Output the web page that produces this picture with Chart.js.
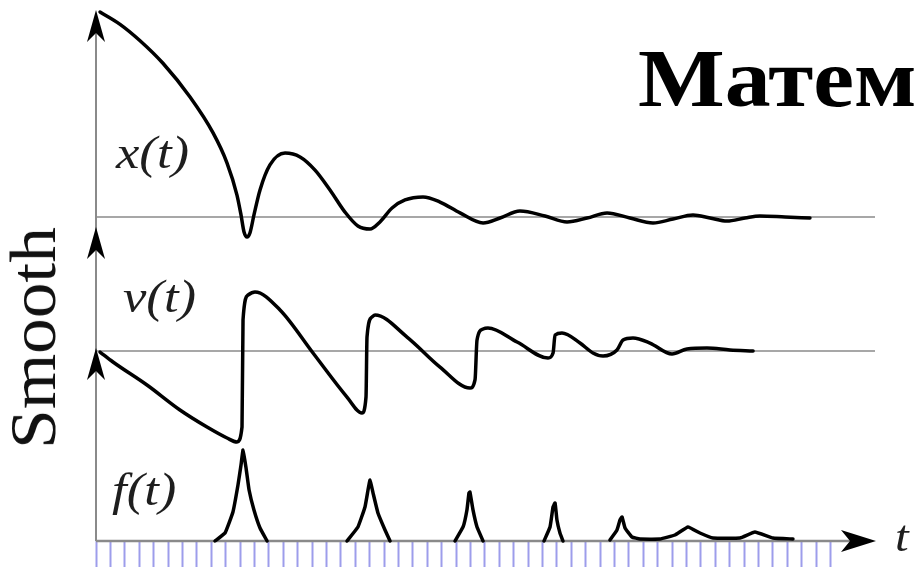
<!DOCTYPE html>
<html>
<head>
<meta charset="utf-8">
<title>Smooth</title>
<script src="https://cdn.jsdelivr.net/npm/chart.js@4.4.1/dist/chart.umd.min.js"></script>
<style>
  html, body { margin: 0; padding: 0; background: #fff; }
  #wrap { position: relative; width: 915px; height: 572px; overflow: hidden; }
  #chart { position: absolute; left: 0; top: 0; }
  .lbl {
    position: absolute; font-family: "Liberation Serif", "Times New Roman", serif;
    font-style: italic; font-size: 47px; line-height: 1; color: #1e1e1e; white-space: nowrap;
    transform: scaleX(1.12); transform-origin: left top;
  }
  #title {
    position: absolute; left: 638px; top: 38px; font-family: "Liberation Serif", "Times New Roman", serif;
    font-weight: bold; font-size: 82px; line-height: 1; color: #000; white-space: nowrap;
    transform: scaleX(1.12); transform-origin: left top;
  }
  #side {
    position: absolute; left: 33px; top: 338px; font-family: "Liberation Serif", "Times New Roman", serif;
    font-size: 66px; line-height: 1; color: #111; white-space: nowrap;
    transform: translate(-50%, -50%) rotate(-90deg) scaleX(1.08);
  }
</style>
</head>
<body>
<div id="wrap">
  <canvas id="chart" width="915" height="572"></canvas>
  <div id="title">Матема</div>
  <div id="side">Smooth</div>
  <div class="lbl" style="left:116px; top:129px;">x(t)</div>
  <div class="lbl" style="left:123px; top:273px;">v(t)</div>
  <div class="lbl" style="left:112px; top:466px;">f(t)</div>
  <div class="lbl" style="left:895px; top:515px; font-size:44px;">t</div>
</div>
<script>
// time, in tick steps
// x(t) - position
const xTimes = [0.28, 1.67, 3.06, 4.65, 6.53, 8.13, 9.10, 9.79, 10.07, 10.28,
  10.49, 10.69, 10.97, 11.39, 12.08, 13.13, 14.17, 15.21, 16.25, 17.29,
  18.19, 19.03, 19.72, 20.56, 21.46, 22.71, 23.89, 25.28, 26.88, 28.06,
  29.44, 31.18, 32.71, 34.10, 35.49, 37.08, 38.68, 40.07, 41.46, 42.64,
  43.82, 45.07, 46.11, 47.85, 49.58];
const xValues = [1.00, 0.94, 0.86, 0.75, 0.585, 0.41, 0.263, 0.107, 0.010, -0.073,
  -0.098, -0.078, 0.010, 0.132, 0.254, 0.312, 0.293, 0.229, 0.132, 0.024,
  -0.044, -0.059, -0.024, 0.044, 0.083, 0.098, 0.073, 0.020, -0.029, -0.005,
  0.029, 0.005, -0.024, -0.005, 0.020, -0.005, -0.029, -0.010, 0.010, -0.005,
  -0.020, -0.005, 0.005, 0, -0.005];

// v(t) - velocity (sawtooth)
const vTimes = [0.28, 1.18, 3.54, 5.83, 7.71, 9.10, 9.79, 10.14, 10.21, 10.56,
  11.04, 12.78, 15.07, 17.43, 18.47, 18.75, 18.82, 19.17, 19.38, 21.60,
  23.89, 25.97, 26.32, 26.46, 26.88, 27.22, 29.24, 31.39, 31.74, 31.88,
  32.36, 33.61, 34.51, 35.21, 36.18, 36.60, 37.29, 38.47, 40.00, 41.04,
  42.43, 44.03, 45.63];
const vValues = [-0.017, -0.183, -0.567, -0.983, -1.267, -1.45, -1.517, -1.267, 0.517, 0.933,
  0.983, 0.683, -0.033, -0.767, -1.033, -0.767, 0.233, 0.567, 0.60, 0.233,
  -0.267, -0.617, -0.483, 0.183, 0.367, 0.383, 0.15, -0.117, -0.033, 0.267,
  0.30, 0.133, -0.033, -0.083, 0.017, 0.183, 0.217, 0.133, -0.05, 0.033,
  0.05, 0.017, 0];

// f(t) - force pulses, null = gap between pulses
const fTimes = [8.26, 8.96, 9.51, 9.86, 10.07, 10.21, 10.42, 10.63, 10.97, 11.39, 11.88,
  14,
  17.43, 18.19, 18.68, 18.89, 19.03, 19.24, 19.58, 20.07, 20.42,
  22.5,
  24.93, 25.49, 25.76, 25.90, 25.97, 26.18, 26.46, 26.88,
  29,
  31.11, 31.53, 31.74, 31.88, 32.01, 32.22, 32.43,
  34,
  35.69, 36.18, 36.39, 36.53, 36.74, 37.22, 37.78, 39.17, 40.21, 41.11,
  41.94, 42.85, 44.72, 45.76, 47.01, 48.40];
const fValues = [0, 0.088, 0.319, 0.615, 0.835, 1.0, 0.802, 0.560, 0.341, 0.143, 0,
  null,
  0, 0.154, 0.374, 0.560, 0.670, 0.527, 0.308, 0.121, 0,
  null,
  0, 0.154, 0.341, 0.527, 0.538, 0.341, 0.154, 0,
  null,
  0, 0.154, 0.374, 0.418, 0.231, 0.088, 0,
  null,
  0.011, 0.121, 0.231, 0.264, 0.143, 0.044, 0.022, 0.022, 0.066, 0.154,
  0.088, 0.033, 0.033, 0.099, 0.033, 0.022];

// sampling marks under the time axis
const tickSteps = [];
for (let i = 0; i < 52; i++) tickSteps.push(i);

// layout
const AREA = { left: 96, top: 10, right: 876, bottom: 541 };
const TICK_PX = 14.4;
const AXIS_GRAY = '#8a8a8a';

// y range that puts zero on a given pixel row
const rangeFor = (zeroPx, pxPerUnit) => ({
  min: -(AREA.bottom - zeroPx) / pxPerUnit,
  max: (zeroPx - AREA.top) / pxPerUnit
});

const toPoints = (ts, vs) => ts.map((t, i) => ({ x: t, y: vs[i] }));

const drawArrow = (ctx, x, y, dir) => {
  // notched arrow head, tip at (x, y)
  const L = 32, N = 23, W = 9;
  ctx.beginPath();
  if (dir === 'up') {
    ctx.moveTo(x, y);
    ctx.lineTo(x - W, y + L);
    ctx.lineTo(x, y + N);
    ctx.lineTo(x + W, y + L);
  } else {
    ctx.moveTo(x, y);
    ctx.lineTo(x - L - 3, y - W - 2);
    ctx.lineTo(x - N - 3, y);
    ctx.lineTo(x - L - 3, y + W + 2);
  }
  ctx.closePath();
  ctx.fill();
};

const axesPlugin = {
  id: 'axesArrows',
  beforeDatasetsDraw(chart) {
    const { ctx, chartArea: a, scales } = chart;
    const zx = scales.yX.getPixelForValue(0);
    const zv = scales.yV.getPixelForValue(0);
    const zf = scales.yF.getPixelForValue(0);
    ctx.save();
    ctx.strokeStyle = AXIS_GRAY;
    ctx.lineWidth = 2;
    ctx.beginPath();
    ctx.moveTo(a.left, a.top + 6);
    ctx.lineTo(a.left, zf);
    ctx.stroke();

    ctx.lineWidth = 1.6;
    [zx, zv].forEach(y => {
      ctx.beginPath();
      ctx.moveTo(a.left, y);
      ctx.lineTo(a.right - 1, y);
      ctx.stroke();
    });
    ctx.lineWidth = 2.4;
    ctx.beginPath();
    ctx.moveTo(a.left, zf);
    ctx.lineTo(a.right - 20, zf);
    ctx.stroke();
    ctx.restore();
  },
  afterDatasetsDraw(chart) {
    const { ctx, chartArea: a, scales } = chart;
    const zx = scales.yX.getPixelForValue(0);
    const zv = scales.yV.getPixelForValue(0);
    const zf = scales.yF.getPixelForValue(0);
    ctx.save();
    ctx.fillStyle = '#000';
    drawArrow(ctx, a.left, a.top, 'up');
    drawArrow(ctx, a.left, zx + 10, 'up');
    drawArrow(ctx, a.left, zv - 3, 'up');
    drawArrow(ctx, a.right, zf, 'right');
    ctx.restore();
  }
};

const lineStyle = {
  borderColor: '#000',
  borderWidth: 3.5,
  pointRadius: 0,
  fill: false,
  clip: false,
  borderCapStyle: 'round',
  borderJoinStyle: 'round'
};

new Chart(document.getElementById('chart'), {
  type: 'line',
  data: {
    datasets: [
      { ...lineStyle, label: 'x(t)', data: toPoints(xTimes, xValues), yAxisID: 'yX', cubicInterpolationMode: 'monotone' },
      { ...lineStyle, label: 'v(t)', data: toPoints(vTimes, vValues), yAxisID: 'yV', cubicInterpolationMode: 'monotone' },
      { ...lineStyle, label: 'f(t)', data: toPoints(fTimes, fValues), yAxisID: 'yF', tension: 0.1, spanGaps: false }
    ]
  },
  options: {
    responsive: false,
    animation: false,
    devicePixelRatio: 1,
    layout: { padding: { left: AREA.left, top: AREA.top, right: 915 - AREA.right, bottom: 572 - AREA.bottom - 26 } },
    plugins: { legend: { display: false }, tooltip: { enabled: false }, title: { display: false } },
    scales: {
      x: {
        type: 'linear',
        min: 0,
        max: (AREA.right - AREA.left) / TICK_PX,
        afterBuildTicks: (axis) => { axis.ticks = tickSteps.map(v => ({ value: v })); },
        ticks: { display: false },
        border: { display: false },
        grid: { drawOnChartArea: false, drawTicks: true, tickLength: 26, tickWidth: 2, tickColor: 'rgba(110, 110, 225, 0.68)' }
      },
      yX: { display: false, ...rangeFor(217, 205) },
      yV: { display: false, ...rangeFor(351, 60) },
      yF: { display: false, ...rangeFor(541, 91) }
    }
  },
  plugins: [axesPlugin]
});
</script>
</body>
</html>
